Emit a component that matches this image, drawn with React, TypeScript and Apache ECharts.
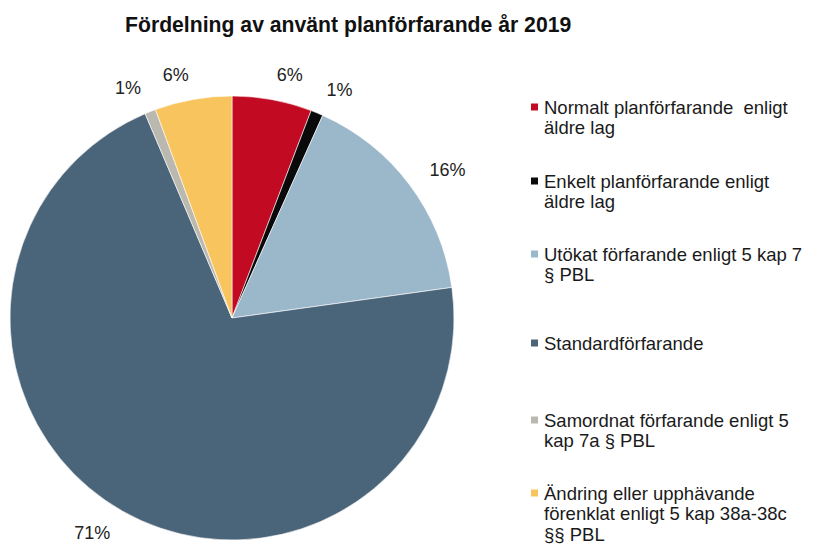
import React, { useEffect, useRef } from "react";
import * as echarts from "echarts";

const titleText = "Fördelning av använt planförfarande år 2019";

const categories = [
  "Normalt planförfarande  enligt äldre lag",
  "Enkelt planförfarande enligt äldre lag",
  "Utökat förfarande enligt 5 kap 7 § PBL",
  "Standardförfarande",
  "Samordnat förfarande enligt 5 kap 7a § PBL",
  "Ändring eller upphävande förenklat enligt 5 kap 38a-38c §§ PBL",
];

// share in percent
const shares = [5.8, 0.9, 16.1, 70.8, 0.8, 5.6];

// legend text as wrapped in the reference
const legendLines = [
  ["Normalt planförfarande  enligt", "äldre lag"],
  ["Enkelt planförfarande enligt", "äldre lag"],
  ["Utökat förfarande enligt 5 kap 7", "§ PBL"],
  ["Standardförfarande"],
  ["Samordnat förfarande enligt 5", "kap 7a § PBL"],
  ["Ändring eller upphävande", "förenklat enligt 5 kap 38a-38c", "§§ PBL"],
];

const colors = ["#C20A22", "#0A0A0A", "#9BB7CA", "#4A6479", "#BBB8B0", "#F8C45E"];

// layout: y of the first legend line of each entry
const legendFirstLineY = [107, 181, 254, 343, 420, 493];
const LINE_H = 20.5;
const FONT = "'Liberation Sans', Arial, sans-serif";

export default function App() {
  const ref = useRef<HTMLDivElement>(null);

  useEffect(() => {
    if (!ref.current) return;
    const chart = echarts.init(ref.current, null, { renderer: "svg" });

    const legends = categories.map((name, i) => {
      const lines = legendLines[i];
      // pad with leading blank lines so the marker sits on the first line
      const padded = [...Array(lines.length - 1).fill(""), ...lines];
      const totalLines = padded.length;
      return {
        data: [name],
        left: 529,
        top: legendFirstLineY[i] - (totalLines * LINE_H) / 2,
        padding: 0,
        orient: "vertical",
        icon: "rect",
        itemWidth: 9,
        itemHeight: 9,
        selectedMode: false,
        formatter: () => padded.join("\n"),
        textStyle: {
          fontFamily: FONT,
          fontSize: 18.5,
          color: "#1a1a1a",
          lineHeight: LINE_H,
        },
      };
    });

    chart.setOption({
      animation: false,
      color: colors,
      title: {
        text: titleText,
        left: 125,
        top: 12,
        padding: 0,
        textStyle: {
          fontFamily: FONT,
          fontSize: 21.2,
          fontWeight: "bold",
          color: "#111",
          lineHeight: 24,
        },
      },
      legend: legends,
      series: [
        {
          type: "pie",
          center: [232, 318],
          radius: 222,
          startAngle: 90,
          clockwise: true,
          avoidLabelOverlap: false,
          itemStyle: { borderColor: "#ffffff", borderWidth: 0.6 },
          label: {
            show: true,
            position: "outside",
            distanceToLabelLine: 0,
            fontFamily: FONT,
            fontSize: 18,
            color: "#222",
            formatter: (p: any) => Math.round(p.value) + "%",
          },
          labelLine: { show: false, length: 25, length2: 0 },
          emphasis: { disabled: true },
          data: categories.map((name, i) => ({ name, value: shares[i] })),
        },
      ],
    });

    return () => chart.dispose();
  }, []);

  return (
    <div
      ref={ref}
      style={{ position: "fixed", left: 0, top: 0, width: 813, height: 555, background: "#fff" }}
    />
  );
}
